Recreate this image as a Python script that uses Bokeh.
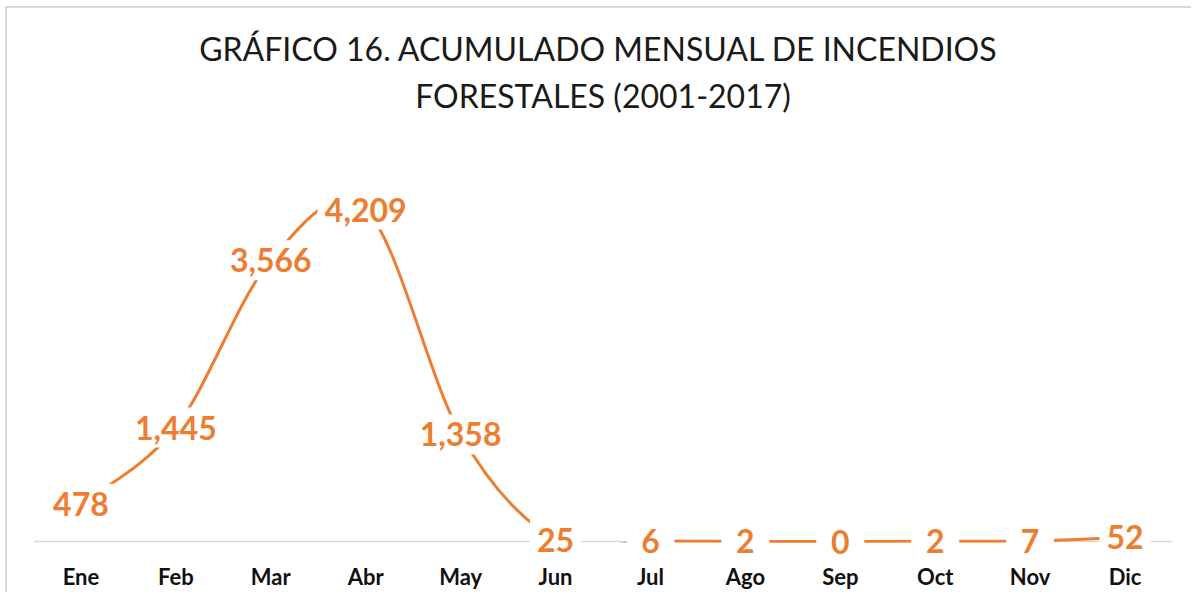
from bokeh.plotting import figure
from bokeh.models import (ColumnDataSource, Range1d, FixedTicker, LabelSet, Span, Title, BoxAnnotation)
from bokeh.core.properties import value
from bokeh.embed import file_html
from bokeh.resources import INLINE

# ---- data ----
months = ["Ene", "Feb", "Mar", "Abr", "May", "Jun", "Jul", "Ago", "Sep", "Oct", "Nov", "Dic"]
fires = [478, 1445, 3566, 4209, 1358, 25, 6, 2, 0, 2, 7, 52]
title_lines = ["GRÁFICO 16.  ACUMULADO MENSUAL DE INCENDIOS", "FORESTALES (2001-2017)"]

ORANGE = "#ED7D31"
FONT = "Lato"

xs = list(range(1, len(months) + 1))
n = len(xs)

# Excel-like smoothed line: cubic Bezier segments (Catmull-Rom control points)
def pt(i):
    i = max(0, min(n - 1, i))
    return xs[i], fires[i]

seg = dict(x0=[], y0=[], x1=[], y1=[], cx0=[], cy0=[], cx1=[], cy1=[])
for i in range(n - 1):
    p0, p1, p2, p3 = pt(i - 1), pt(i), pt(i + 1), pt(i + 2)
    seg["x0"].append(p1[0]); seg["y0"].append(p1[1])
    seg["x1"].append(p2[0]); seg["y1"].append(p2[1])
    seg["cx0"].append(p1[0] + (p2[0] - p0[0]) / 6); seg["cy0"].append(p1[1] + (p2[1] - p0[1]) / 6)
    seg["cx1"].append(p2[0] - (p3[0] - p1[0]) / 6); seg["cy1"].append(p2[1] - (p3[1] - p1[1]) / 6)

p = figure(width=1186, height=586, output_backend="svg", toolbar_location=None,
           x_range=Range1d(0.5, 12.5), y_range=Range1d(-266, 5325),
           min_border_left=26, min_border_right=21, min_border_top=113, min_border_bottom=32,
           styles={"margin-top": "6px", "margin-left": "5px",
                   "border-top": "2px solid #d9d9d9", "border-left": "2px solid #d9d9d9"})
p.outline_line_color = None
p.xgrid.visible = False
p.ygrid.visible = False
p.yaxis.visible = False
p.background_fill_color = "white"
p.border_fill_color = "white"

# titles (second line added first so it sits closest to the plot)
t2 = Title(text=title_lines[1], align="center", text_font=FONT, text_font_size="32px",
           text_font_style="normal", text_color="#1a1a1a", standoff=13)
t1 = Title(text=title_lines[0], align="center", text_font=FONT, text_font_size="32px",
           text_font_style="normal", text_color="#1a1a1a", standoff=0)
p.add_layout(t2, "above")
p.add_layout(t1, "above")

# baseline
base = Span(location=0, dimension="width", line_color="#d9d9d9", line_width=1.5, level="underlay")
p.add_layout(base)

# smoothed line
p.bezier(x0="x0", y0="y0", x1="x1", y1="y1", cx0="cx0", cy0="cy0", cx1="cx1", cy1="cy1",
         source=ColumnDataSource(seg), line_color=ORANGE, line_width=3)

# data label boxes (white background like Excel labels)
labs = [f"{v:,}" for v in fires]
box_w = [max(48, sum(18.6 if c.isdigit() else 8 for c in s) + 14) for s in labs]
src = ColumnDataSource(dict(x=xs, y=fires, lab=labs, w=box_w))
p.rect(x="x", y="y", width="w", height=40, width_units="screen", height_units="screen",
       source=src, fill_color="white", line_color=None)

# Excel clips the smoothed line at the bottom of the value axis
clip = BoxAnnotation(top=-15, fill_color="white", fill_alpha=1.0, line_color=None, level="annotation")
p.add_layout(clip)

labels = LabelSet(x="x", y="y", text="lab", source=src, text_align="center", text_baseline="middle",
                  text_font=value(FONT), text_font_style="bold", text_font_size="32px", text_color=ORANGE,
                  level="annotation")
p.add_layout(labels)

# x axis
p.xaxis.ticker = FixedTicker(ticks=xs)
p.xaxis.major_label_overrides = {x: m for x, m in zip(xs, months)}
p.xaxis.axis_line_color = None
p.xaxis.major_tick_line_color = None
p.xaxis.minor_tick_line_color = None
p.xaxis.major_tick_out = 0
p.xaxis.major_tick_in = 0
p.xaxis.major_label_text_font = FONT
p.xaxis.major_label_text_font_style = "bold"
p.xaxis.major_label_text_font_size = "22px"
p.xaxis.major_label_text_color = "#111111"
p.xaxis.major_label_standoff = 0

open("out.html", "w").write(file_html(p, INLINE))
